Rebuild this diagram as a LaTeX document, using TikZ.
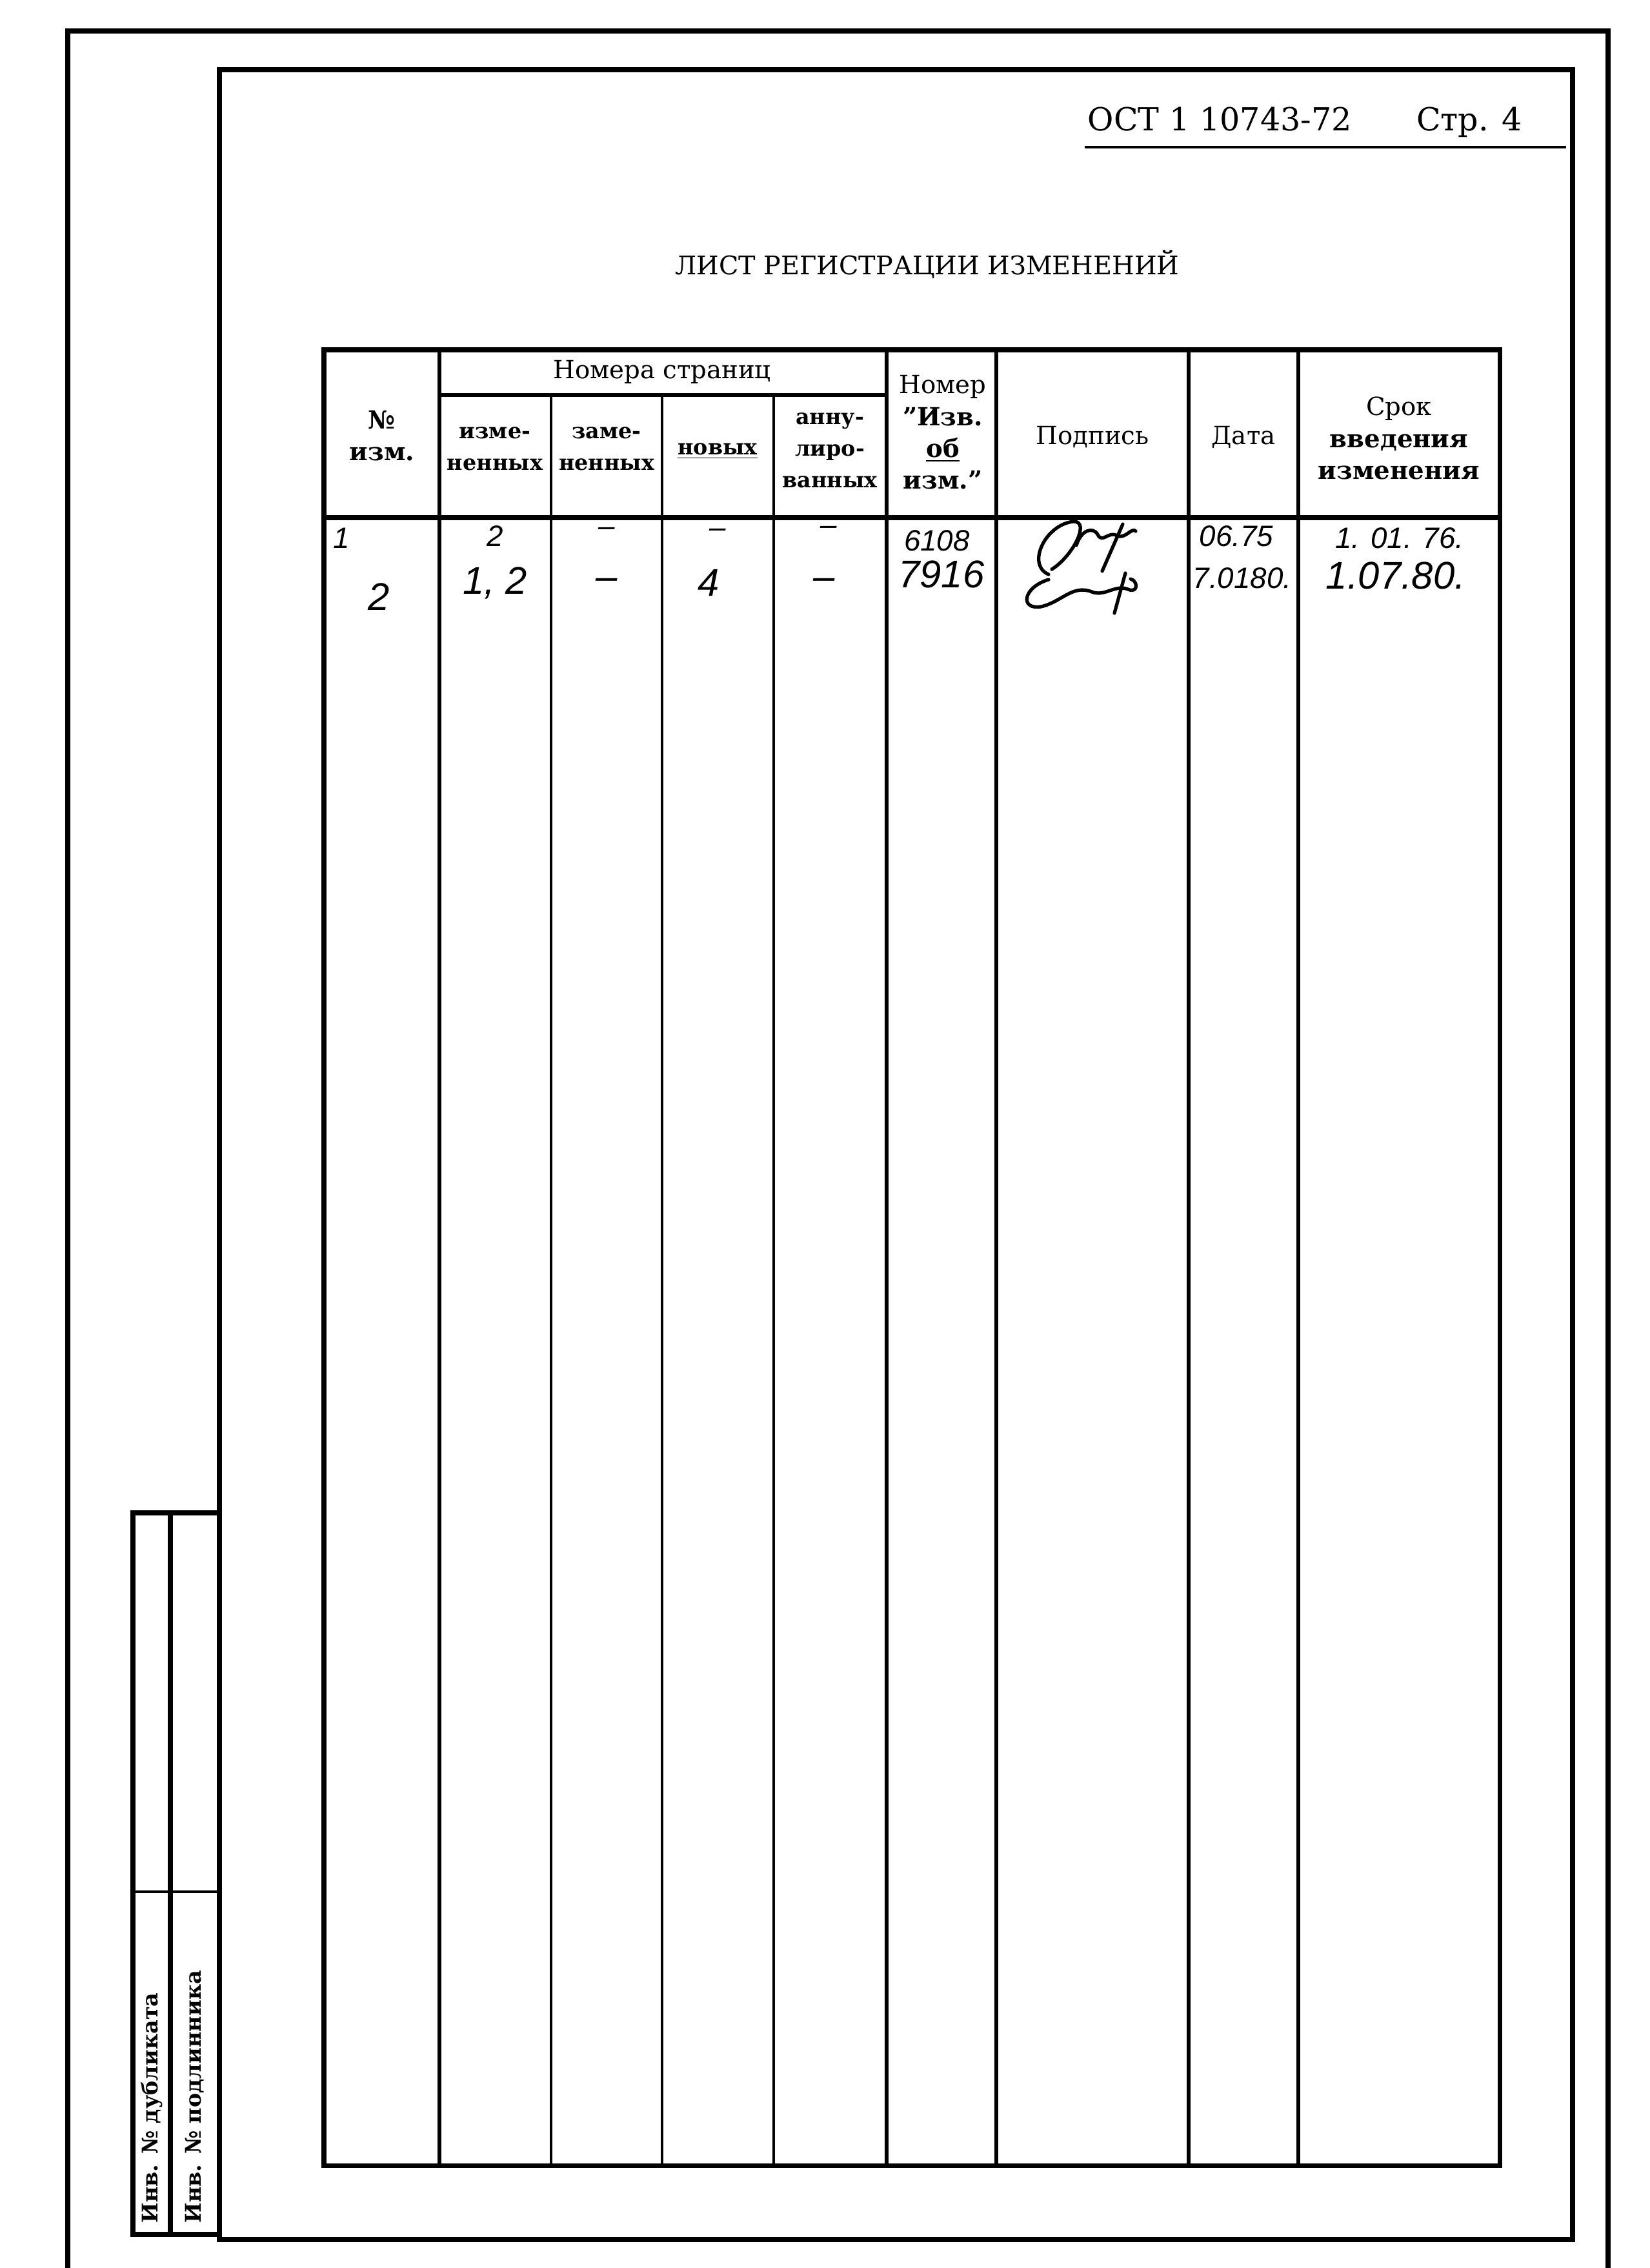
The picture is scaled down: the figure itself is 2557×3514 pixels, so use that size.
\documentclass[tikz,border=0pt]{standalone}
\usepackage{fontspec}
\setmainfont{DejaVu Serif}
\newfontfamily\handfont{Liberation Sans}
\usetikzlibrary{positioning}
\usetikzlibrary{calc}

\tikzset{
  frame/.style={line width=2.3pt},
  rule/.style={line width=1.6pt},
  thinrule/.style={line width=1.1pt},
  head/.style={font=\fontsize{11}{14}\selectfont, align=center, inner sep=0},
  cell/.style={font=\bfseries\fontsize{9.5}{14}\selectfont, align=center, inner sep=0},
  hw/.style={font=\handfont\itshape\fontsize{17}{17}\selectfont, inner sep=0},
  hwsmall/.style={font=\handfont\itshape\fontsize{13}{13}\selectfont, inner sep=0},
  sig/.style={line width=1.5pt, line cap=round, line join=round},
}

\begin{document}
\begin{tikzpicture}[x=0.01cm,y=-0.01cm]
\useasboundingbox (0,0) rectangle (2557,3514);

% sheet edges
\draw[frame] (105,3514) -- (105,48) -- (2492,48) -- (2492,3514);
\draw[frame] (340,108) rectangle (2437,3470);

% stamp on the left margin
\draw[frame] (340,2344) -- (206,2344) -- (206,3462) -- (340,3462);
\draw[frame] (264,2344) -- (264,3462);
\draw[thinrule] (206,2931) -- (340,2931);
\node[cell, rotate=90, anchor=west] (dubl) at (235,3445) {Инв. № дубликата};
\node[cell, rotate=90, anchor=west] (podl) at (302,3445) {Инв. № подлинника};

% top right heading
\node[font=\fontsize{14}{14}\selectfont, anchor=base west, inner sep=0] (ost) at (1685,202) {ОСТ 1 10743-72};
\node[font=\fontsize{14}{14}\selectfont, anchor=base east, inner sep=0] (page) at (2360,202) {Стр. 4};
\draw[line width=1.2pt] (1681,228) -- (2427,228);

\node[font=\fontsize{11.3}{12}\selectfont, inner sep=0] (title) at (1437,410) {ЛИСТ РЕГИСТРАЦИИ ИЗМЕНЕНИЙ};

% table
\draw[line width=2pt] (502,542) rectangle (2324,3355);
\foreach \x in {681,1374,1544,1842,2012}
  \draw[rule] (\x,542) -- (\x,3355);
\foreach \x in {854,1026,1199}
  \draw[thinrule] (\x,612) -- (\x,3355);
\draw[rule] (681,612) -- (1374,612);
\draw[line width=2pt] (502,802) -- (2324,802);

% header cells
\node[head, font=\bfseries\fontsize{11}{14}\selectfont] (nomer) at (592,675) {№\\изм.};
\node[head] (pages) at (1026,576) {Номера страниц};
\node[cell] (changed) at (767,695) {изме-\\ненных};
\node[cell] (replaced) at (940,695) {заме-\\ненных};
\node[cell] (new) at (1112,699) {\underline{новых}};
\node[cell] (annul) at (1286,698) {анну-\\лиро-\\ванных};
\node[head] (notice) at (1461,670) {Номер\\\bfseries "Изв.\\\bfseries \underline{об}\\\bfseries изм."};
\node[head] (sign) at (1693,677) {Подпись};
\node[head] (date) at (1927,677) {Дата};
\node[head] (term) at (2168,679) {Срок\\\bfseries введения\\\bfseries изменения};

% first entry
\node[hwsmall] (n1) at (529,834) {1};
\node[hwsmall] (p1) at (767,831) {2};
\node[hwsmall] (r1) at (940,824) {–};
\node[hwsmall] (w1) at (1112,826) {–};
\node[hwsmall] (a1) at (1284,822) {–};
\node[hwsmall] (i1) at (1452,838) {6108};
\node[hwsmall] (d1) at (1916,831) {06.75};
\node[hwsmall] (t1) at (2169,834) {1. 01. 76.};

% second entry
\node[hw] (n2) at (587,925) {2};
\node[hw] (p2) at (767,903) {1, 2};
\node[hw] (r2) at (940,905) {–};
\node[hw] (w2) at (1098,903) {4};
\node[hw] (a2) at (1277,905) {–};
\node[hw] (i2) at (1459,890) {7916};
\node[hwsmall] (d2) at (1925,896) {7.0180.};
\node[hw] (t2) at (2163,892) {1.07.80.};

% signatures
\draw[sig] (1625,890) .. controls (1590,875) and (1620,812) .. (1664,808)
  .. controls (1690,808) and (1662,862) .. (1630,882);
\draw[sig] (1668,845) .. controls (1675,822) and (1693,815) .. (1701,828)
  .. controls (1708,843) and (1718,822) .. (1731,830)
  .. controls (1744,836) and (1754,816) .. (1760,823);
\draw[sig] (1740,812) -- (1708,885);
\draw[sig] (1625,898) .. controls (1585,910) and (1580,945) .. (1613,940)
  .. controls (1645,933) and (1662,905) .. (1692,917)
  .. controls (1712,925) and (1728,905) .. (1748,913)
  .. controls (1764,920) and (1764,900) .. (1752,897);
\draw[sig] (1744,888) -- (1727,950);
\end{tikzpicture}
\end{document}
